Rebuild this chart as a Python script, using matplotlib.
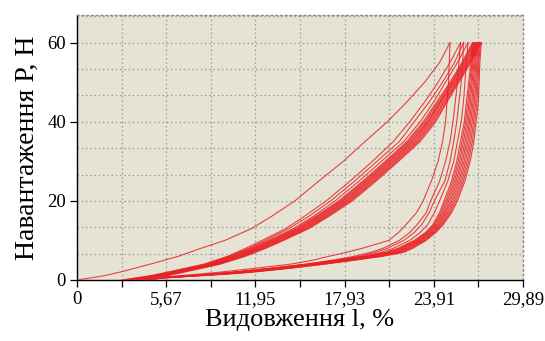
import numpy as np
import matplotlib.pyplot as plt

plt.rcParams['font.family'] = ['Liberation Serif', 'DejaVu Serif']

# loading branches: strain (%) read at these load levels (N)
load_levels = [0, 1, 2, 4, 6, 8, 10, 13, 16, 20, 25, 30, 35, 40, 45, 50, 55, 60]
load_strain = [
    [0.0, 1.7, 2.9, 4.9, 6.8, 8.3, 9.9, 11.7, 13.0, 14.6, 16.2, 17.85, 19.3, 20.8, 22.1, 23.3, 24.3, 25.0],
    [3.0, 4.8, 6.1, 8.5, 10.1, 11.3, 12.4, 14.0, 15.2, 16.7, 18.3, 19.8, 21.2, 22.3, 23.3, 24.2, 25.0, 25.7],
    [3.1, 4.9, 6.2, 8.6, 10.2, 11.5, 12.6, 14.2, 15.5, 17.0, 18.6, 20.1, 21.6, 22.6, 23.6, 24.5, 25.3, 25.9],
    [3.2, 5.0, 6.3, 8.7, 10.3, 11.6, 12.8, 14.5, 15.8, 17.3, 18.9, 20.4, 21.9, 23.0, 23.9, 24.7, 25.5, 26.2],
    [3.4, 5.1, 6.4, 8.8, 10.4, 11.75, 12.95, 14.65, 15.95, 17.55, 19.15, 20.65, 22.1, 23.2, 24.1, 25.0, 25.8, 26.5],
    [3.5, 5.2, 6.5, 8.9, 10.5, 11.85, 13.05, 14.75, 16.05, 17.65, 19.25, 20.75, 22.2, 23.3, 24.2, 25.07, 25.87, 26.57],
    [3.6, 5.3, 6.6, 9.0, 10.6, 11.95, 13.15, 14.85, 16.15, 17.75, 19.35, 20.85, 22.3, 23.4, 24.3, 25.13, 25.93, 26.63],
    [3.7, 5.4, 6.7, 9.1, 10.7, 12.05, 13.25, 14.95, 16.25, 17.85, 19.45, 20.95, 22.4, 23.5, 24.35, 25.2, 26.0, 26.7],
    [3.8, 5.5, 6.8, 9.2, 10.8, 12.15, 13.35, 15.05, 16.35, 17.95, 19.55, 21.05, 22.5, 23.55, 24.4, 25.27, 26.07, 26.77],
    [3.85, 5.55, 6.85, 9.25, 10.9, 12.25, 13.45, 15.15, 16.45, 18.05, 19.65, 21.15, 22.6, 23.65, 24.5, 25.33, 26.13, 26.83],
    [3.9, 5.6, 6.9, 9.3, 11.0, 12.35, 13.55, 15.25, 16.55, 18.15, 19.75, 21.25, 22.7, 23.75, 24.6, 25.4, 26.2, 26.9],
    [4.0, 5.7, 7.0, 9.4, 11.1, 12.45, 13.65, 15.35, 16.65, 18.25, 19.85, 21.35, 22.8, 23.85, 24.65, 25.47, 26.27, 26.97],
    [4.1, 5.8, 7.1, 9.5, 11.2, 12.55, 13.75, 15.45, 16.75, 18.35, 19.95, 21.45, 22.9, 23.95, 24.75, 25.53, 26.33, 27.03],
    [4.2, 5.9, 7.2, 9.6, 11.3, 12.65, 13.85, 15.55, 16.85, 18.45, 20.05, 21.55, 23.0, 24.05, 24.8, 25.6, 26.4, 27.1],
]

# unloading branches
unload_levels = [60, 55, 50, 45, 40, 35, 30, 25, 20, 17, 14, 12, 10, 8, 7, 6, 5, 4, 3, 2, 1.5, 1, 0.5, 0]
unload_strain = [
    [25.0, 24.95, 24.9, 24.8, 24.7, 24.5, 24.2, 23.75, 23.2, 22.75, 22.05, 21.55, 20.9, 19.1, 18.05, 16.9, 15.8, 14.3, 12.0, 9.6, 8.2, 6.6, 5.1, 4.0],
    [25.7, 25.6, 25.5, 25.35, 25.2, 25.0, 24.7, 24.3, 23.7, 23.4, 22.8, 22.3, 21.6, 20.5, 19.7, 18.6, 17.1, 15.3, 13.0, 10.4, 8.8, 7.0, 5.2, 4.2],
    [25.9, 25.85, 25.75, 25.6, 25.45, 25.25, 25.0, 24.65, 23.95, 23.6, 23.1, 22.6, 21.9, 20.8, 20.0, 18.9, 17.4, 15.5, 13.2, 10.6, 9.0, 7.1, 5.3, 4.3],
    [26.2, 26.1, 26.0, 25.9, 25.75, 25.5, 25.25, 24.85, 24.3, 23.95, 23.5, 23.0, 22.3, 21.2, 20.4, 19.2, 17.6, 15.7, 13.4, 10.8, 9.2, 7.2, 5.3, 4.3],
    [26.5, 26.4, 26.25, 26.1, 25.95, 25.7, 25.45, 25.1, 24.6, 24.3, 23.85, 23.35, 22.6, 21.5, 20.7, 19.3, 17.4, 15.4, 13.2, 10.6, 9.1, 7.1, 5.2, 4.2],
    [26.57, 26.47, 26.33, 26.19, 26.04, 25.8, 25.55, 25.2, 24.7, 24.39, 23.93, 23.43, 22.69, 21.61, 20.83, 19.43, 17.53, 15.53, 13.33, 10.73, 9.21, 7.19, 5.27, 4.27],
    [26.63, 26.53, 26.4, 26.28, 26.13, 25.9, 25.65, 25.3, 24.8, 24.48, 24.0, 23.5, 22.78, 21.72, 20.96, 19.56, 17.66, 15.66, 13.46, 10.86, 9.32, 7.28, 5.33, 4.33],
    [26.7, 26.6, 26.48, 26.37, 26.22, 26.0, 25.75, 25.4, 24.9, 24.57, 24.08, 23.58, 22.87, 21.83, 21.1, 19.7, 17.8, 15.8, 13.6, 11.0, 9.43, 7.37, 5.4, 4.4],
    [26.77, 26.67, 26.56, 26.46, 26.31, 26.1, 25.85, 25.5, 25.0, 24.66, 24.16, 23.66, 22.96, 21.94, 21.23, 19.83, 17.93, 15.93, 13.73, 11.13, 9.54, 7.46, 5.47, 4.47],
    [26.83, 26.73, 26.64, 26.54, 26.39, 26.2, 25.95, 25.6, 25.1, 24.74, 24.24, 23.74, 23.04, 22.06, 21.37, 19.97, 18.07, 16.07, 13.87, 11.27, 9.66, 7.54, 5.53, 4.53],
    [26.9, 26.8, 26.72, 26.63, 26.48, 26.3, 26.05, 25.7, 25.2, 24.83, 24.32, 23.82, 23.13, 22.17, 21.5, 20.1, 18.2, 16.2, 14.0, 11.4, 9.77, 7.63, 5.6, 4.6],
    [26.97, 26.87, 26.8, 26.72, 26.57, 26.4, 26.15, 25.8, 25.3, 24.92, 24.4, 23.9, 23.22, 22.28, 21.64, 20.24, 18.34, 16.34, 14.14, 11.54, 9.88, 7.72, 5.67, 4.67],
    [27.03, 26.93, 26.87, 26.81, 26.66, 26.5, 26.25, 25.9, 25.4, 25.01, 24.47, 23.97, 23.31, 22.39, 21.77, 20.37, 18.47, 16.47, 14.27, 11.67, 9.99, 7.81, 5.73, 4.73],
    [27.1, 27.0, 26.95, 26.9, 26.75, 26.6, 26.35, 26.0, 25.5, 25.1, 24.55, 24.05, 23.4, 22.5, 21.9, 20.5, 18.6, 16.6, 14.4, 11.8, 10.1, 7.9, 5.8, 4.8],
]

xtick_labels = ['0', '5,67', '11,95', '17,93', '23,91', '29,89']
ytick_values = [0, 20, 40, 60]

xmax = 29.89
ymax = 67.0

fig = plt.figure(figsize=(5.45, 3.41), dpi=100)
ax = fig.add_axes([0.1413, 0.1789, 0.8183, 0.7771])
ax.set_facecolor('#e5e3d4')

red = '#ea2226'
for xs in load_strain:
    ax.plot(xs, load_levels, color=red, lw=0.8, alpha=0.85, zorder=3)
for xs in unload_strain:
    ax.plot(xs, unload_levels, color=red, lw=0.8, alpha=0.85, zorder=3)

ax.set_xlim(0, xmax)
ax.set_ylim(0, ymax)

ax.set_xticks(np.linspace(0, xmax, 6))
ax.set_xticklabels(xtick_labels, fontsize=13.5)
ax.set_xticks(np.linspace(0, xmax, 11), minor=True)
ax.set_yticks(ytick_values)
ax.set_yticklabels([str(v) for v in ytick_values], fontsize=13.5)
ax.tick_params(axis='both', which='both', direction='out', length=5,
               width=0.9, color='black', pad=3)

# dotted grid
for gx in np.linspace(0, xmax, 11)[1:]:
    ax.axvline(gx, color='#9a9a9a', lw=0.9, ls=(0, (1.2, 2.2)), zorder=1)
for gy in np.arange(1, 11) * 20 / 3:
    ax.axhline(gy, color='#9a9a9a', lw=0.9, ls=(0, (1.2, 2.2)), zorder=1)

for s in ['top', 'right']:
    ax.spines[s].set_color('#8a8a8a')
    ax.spines[s].set_linestyle((0, (1.2, 2.2)))
    ax.spines[s].set_linewidth(1.0)
ax.spines['left'].set_linewidth(1.0)
ax.spines['bottom'].set_linewidth(1.0)

ax.set_xlabel('Видовження l, %', fontsize=19, labelpad=1)
ax.set_ylabel('Навантаження Р, Н', fontsize=20, labelpad=5)

plt.savefig('out.png', dpi=100)
